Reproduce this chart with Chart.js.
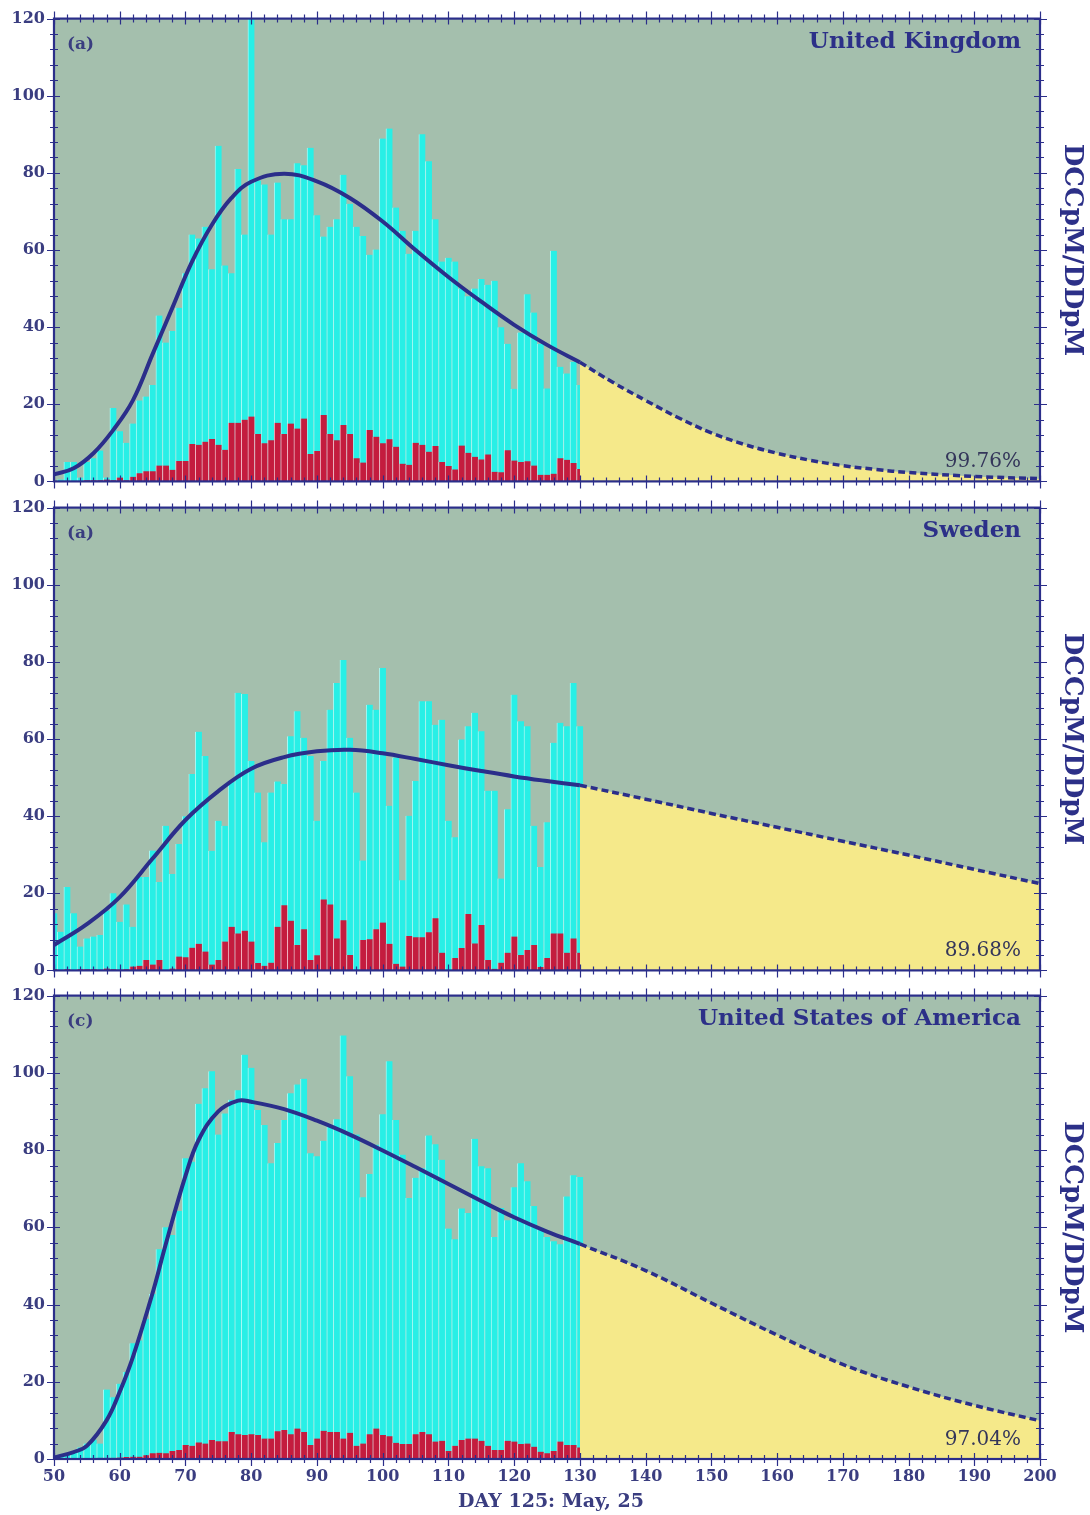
<!DOCTYPE html>
<html>
<head>
<meta charset="utf-8">
<script src="https://cdn.jsdelivr.net/npm/chart.js@4.4.1/dist/chart.umd.min.js"></script>
<style>
html,body{margin:0;padding:0;background:#ffffff;width:1090px;height:1515px;overflow:hidden}
.p{position:absolute;left:0;width:1090px}
canvas{display:block}
</style>
</head>
<body>
<div class="p" style="top:0px;height:500px"><canvas id="c1" width="1090" height="500"></canvas></div>
<div class="p" style="top:489px;height:500px"><canvas id="c2" width="1090" height="500"></canvas></div>
<div class="p" style="top:977px;height:538px"><canvas id="c3" width="1090" height="538"></canvas></div>
<script>
// ---------- DATA ----------
const days = [50,51,52,53,54,55,56,57,58,59,
  60,61,62,63,64,65,66,67,68,69,
  70,71,72,73,74,75,76,77,78,79,
  80,81,82,83,84,85,86,87,88,89,
  90,91,92,93,94,95,96,97,98,99,
  100,101,102,103,104,105,106,107,108,109,
  110,111,112,113,114,115,116,117,118,119,
  120,121,122,123,124,125,126,127,128,129,
  130];

const xTickLabels = [50,60,70,80,90,100,110,120,130,140,150,160,170,180,190,200];
const yTickLabels = [0,20,40,60,80,100,120];

// United Kingdom
const ukCases = [0,0.5,5,5,1,5,6,8,1,19,
  13,10,15,21,22,25,43,36,39,45,
  54,64,63,66,55,87,56,54,81,64,
  120,78,77,64,77.5,68,68,82.5,82,86.5,
  69,63.5,66,68,79.5,72,66,63.6,58.8,60.1,
  88.9,91.5,71,65,59,65,90,83,68,57,
  58,57,50,48,50,52.5,51,52,40,35.7,
  24,38.6,48.5,43.8,35.7,24.1,59.8,29.7,28,31,
  25];
const ukDeaths = [0,0,0,0,0,0.3,0.3,0.3,0.5,0.3,
  1,0.3,1.2,2.1,2.6,2.6,4.1,4.1,3,5.3,
  5.3,9.7,9.5,10.3,11,9.5,8.2,15.2,15.2,16,
  16.8,12.3,9.9,10.7,15.2,12.3,15,13.7,16.3,7.1,
  7.9,17.2,12.3,10.7,14.6,12.3,6,4.9,13.3,11.6,
  9.9,10.9,9,4.6,4.3,10,9.5,7.7,9.2,5,
  4,3.1,9.3,7.4,6.4,5.7,7,2.5,2.4,8.1,
  5.4,5,5.2,4.1,1.7,1.7,2,6,5.6,4.8,
  3.2];
const ukFitDays = [50,53,56,59,62,65,68,71,74,77,80,85,90,95,100,105,110,115,120,125,130];
const ukFit     = [1.8,3.4,7.3,13.3,21,33,45,57,66.5,73.5,77.7,79.8,77.8,73.5,67.4,60,53,46.6,40.6,35.4,30.9];
const ukProjDays = [130,135,140,145,150,155,160,165,170,175,180,190,200];
const ukProj     = [30.9,25.7,21,16.5,12.6,9.6,7.3,5.5,4.1,3.1,2.3,1.3,0.7];

// Sweden
const seCases = [14.8,10,21.6,14.8,6.2,8.3,8.8,9.2,15.5,20,
  12.6,17.1,11.3,24.2,24.2,31.1,22.9,37.5,25,32.8,
  40,50.9,61.9,55.6,31,38.8,37.5,49,72,71.7,
  54.3,46.1,33.2,46.1,49,48.3,60.7,67.2,60.3,55.6,
  38.8,54.3,67.6,74.5,80.5,60.3,46.1,28.5,68.9,67.6,
  78.4,42.7,55.2,23.4,40.1,49.1,69.8,69.8,63.7,65,
  38.8,34.5,59.9,63.3,66.8,62,46.6,46.6,23.8,41.8,
  71.5,64.6,63.3,37.5,26.8,38.4,59,64.2,63.3,74.5,
  63.3];
const seDeaths = [0.3,0,0.3,0,0.3,0.3,0.3,0.2,0.5,0.3,
  0.2,0.3,1,1.2,2.7,1.5,2.7,0,0.5,3.6,
  3.4,5.9,6.9,4.9,1.5,2.7,7.5,11.3,9.6,10.3,
  7.5,1.9,1.2,2,11.3,16.9,12.9,6.6,10.7,2.7,
  3.9,18.4,17.1,8.3,13,4,0,7.9,8.1,10.7,
  12.4,6.9,1.7,1,8.9,8.6,8.6,9.9,13.5,4.6,
  0,3.2,5.8,14.6,7,11.8,2.7,0.4,2,4.6,
  8.8,4,5.3,6.6,0.9,3.2,9.6,9.6,4.6,8.3,
  4.6];
const seFitDays = [50,55,60,65,70,75,80,85,90,95,100,105,110,115,120,125,130];
const seFit     = [6.6,12,19,29,39,46.5,52.3,55.3,56.8,57.2,56.3,54.8,53.2,51.7,50.3,49.1,48];
const seProjDays = [130,140,150,160,170,180,190,200];
const seProj     = [48,44.4,40.7,37.1,33.5,29.9,26.2,22.5];

// United States of America
const usCases = [0.5,1,1.5,2,3,4,5,4,18,16,
  19.5,22.5,30,30.7,36.3,42.7,54.3,60,58,64.2,
  77.9,77,92,96,100.4,84,89.5,93,95.5,104.7,
  101.3,90.4,86.5,76.6,81.8,87.8,94.7,97,98.5,79.2,
  78.4,82.4,86.1,88,109.7,99.1,84,67.8,73.8,81.4,
  89.3,103,87.8,78.8,67.6,72.8,75.3,83.8,81.5,77.5,
  59.7,56.9,64.9,63.7,82.9,75.8,75.3,57.5,65,61.8,
  70.4,76.6,71.9,65.5,59.9,57.5,56.4,55.6,68,73.5,
  73];
const usDeaths = [0.1,0.1,0.1,0.1,0.2,0.2,0.2,0.3,0.3,0.3,
  0.4,0.5,0.6,0.6,1,1.5,1.6,1.5,2.1,2.3,
  3.6,3.4,4.3,4,4.9,4.6,4.6,7,6.4,6.2,
  6.4,6.2,5.3,5.3,7.2,7.5,6.4,7.9,7,3.6,
  5.3,7.3,7,7,5.3,6.8,3.4,4,6.4,7.9,
  6.2,5.9,4.2,3.9,3.9,6.4,7,6.4,4.5,4.7,
  2.1,3.4,4.9,5.3,5.3,4.7,3.4,2.3,2.3,4.7,
  4.5,3.9,4,3.2,1.9,1.5,2.1,4.5,3.6,3.6,
  3];
const usFitDays = [50,53,55,58,60,62,65,67,70,72,75,78,80,85,90,95,100,105,110,115,120,125,130];
const usFit     = [0.4,1.8,3.4,10,17.4,26.4,43,55.6,73.3,82.6,90,92.8,92.5,90.6,87.6,84,79.9,75.6,71.2,66.8,62.6,58.9,55.7];
const usProjDays = [130,140,150,160,170,180,190,200];
const usProj     = [55.7,48.8,40.4,32.1,24.5,18.7,13.9,9.9];

// ---------- STYLE ----------
const PLOT_BG = '#a4bfad';
const CYAN = '#28efe6', CYAN_EDGE = '#a6f8f3';
const RED = '#c41c3e', RED_EDGE = '#efb0be';
const YELLOW = '#f5e98a';
const NAVY = '#2b2e8a';
const LABEL = '#3a3d80';
const SERIF = "'DejaVu Serif', 'Liberation Serif', serif";

function pts(xs, ys) { return xs.map((x, i) => ({ x: x, y: ys[i] })); }

function decor(cfg) {
  return {
    id: 'decor_' + cfg.key,
    beforeDraw(chart) {
      const { ctx, chartArea: a } = chart;
      ctx.save();
      ctx.fillStyle = PLOT_BG;
      ctx.fillRect(a.left, a.top, a.right - a.left, a.bottom - a.top);
      ctx.restore();
    },
    afterDraw(chart) {
      const { ctx, chartArea: a, scales } = chart;
      const x = scales.x, y = scales.y;
      ctx.save();
      // ticks crossing the frame on all four sides
      ctx.strokeStyle = NAVY;
      ctx.lineWidth = 1.2;
      ctx.beginPath();
      for (let v = 50; v <= 200; v += 2) {
        const px = Math.round(x.getPixelForValue(v)) + 0.5;
        const major = v % 10 === 0;
        const out = major ? 7 : 4, inn = major ? 6 : 4;
        ctx.moveTo(px, a.bottom + out); ctx.lineTo(px, a.bottom - inn);
        ctx.moveTo(px, a.top - out); ctx.lineTo(px, a.top + inn);
      }
      for (let v = 0; v <= 120; v += 4) {
        const py = Math.round(y.getPixelForValue(v)) + 0.5;
        const major = v % 20 === 0;
        const out = major ? 7 : 4, inn = major ? 6 : 4;
        ctx.moveTo(a.left - out, py); ctx.lineTo(a.left + inn, py);
        ctx.moveTo(a.right + out, py); ctx.lineTo(a.right - inn, py);
      }
      ctx.stroke();
      // frame
      ctx.lineWidth = 2.2;
      ctx.strokeRect(a.left, a.top, a.right - a.left, a.bottom - a.top);

      // panel tag
      ctx.fillStyle = LABEL;
      ctx.textBaseline = 'alphabetic';
      ctx.textAlign = 'left';
      ctx.font = 'bold 17px ' + SERIF;
      ctx.fillText(cfg.tag, a.left + 13, a.top + 30);
      // country title
      ctx.fillStyle = '#2c3088';
      ctx.textAlign = 'right';
      ctx.font = 'bold 23px ' + SERIF;
      ctx.fillText(cfg.title, a.right - 19, a.top + 29);
      // percentage
      ctx.fillStyle = '#34365a';
      ctx.font = '20px ' + SERIF;
      ctx.fillText(cfg.pct, a.right - 19, a.bottom - 14);
      // right axis label
      ctx.save();
      ctx.translate(1072, (a.top + a.bottom) / 2);
      ctx.rotate(Math.PI / 2);
      ctx.textAlign = 'center';
      ctx.textBaseline = 'middle';
      ctx.fillStyle = '#2c3088';
      ctx.font = 'bold 26px ' + SERIF;
      ctx.fillText('DCCpM/DDpM', 0, 0);
      ctx.restore();
      // x axis title
      if (cfg.xTitle) {
        ctx.textAlign = 'center';
        ctx.textBaseline = 'alphabetic';
        ctx.fillStyle = LABEL;
        ctx.font = 'bold 19px ' + SERIF;
        ctx.fillText(cfg.xTitle, (a.left + a.right) / 2 + 4, chart.height - 8);
      }
      ctx.restore();
    }
  };
}

function makeChart(id, cfg) {
  const showX = !!cfg.xTitle;
  const tickFont = { family: SERIF, weight: 'bold', size: 16 };
  return new Chart(document.getElementById(id), {
    type: 'bar',
    data: {
      datasets: [
        { type: 'line', data: pts(cfg.fitDays, cfg.fit), borderColor: NAVY, borderWidth: 4,
          pointRadius: 0, tension: 0.4, fill: false, order: 1 },
        { type: 'line', data: pts(cfg.projDays, cfg.proj), borderColor: NAVY, borderWidth: 3.5,
          borderDash: [7, 4], pointRadius: 0, tension: 0.4,
          fill: 'origin', backgroundColor: YELLOW, order: 2 },
        { type: 'bar', data: pts(days, cfg.deaths), backgroundColor: RED, borderColor: RED_EDGE,
          borderWidth: { left: 1, right: 0, top: 0, bottom: 0 }, barPercentage: 1, categoryPercentage: 1,
          grouped: false, order: 3 },
        { type: 'bar', data: pts(days, cfg.cases), backgroundColor: CYAN, borderColor: CYAN_EDGE,
          borderWidth: { left: 1, right: 0, top: 0, bottom: 0 }, barPercentage: 1, categoryPercentage: 1,
          grouped: false, order: 4 }
      ]
    },
    options: {
      responsive: false,
      animation: false,
      events: [],
      layout: { padding: { left: 0, right: 50, top: 16, bottom: showX ? 0 : 18 } },
      plugins: { legend: { display: false }, tooltip: { enabled: false }, title: { display: false } },
      scales: {
        x: {
          type: 'linear', min: 50, max: 200, offset: false,
          grid: { display: false, drawTicks: false }, border: { display: false },
          afterBuildTicks: (s) => { s.ticks = xTickLabels.map(v => ({ value: v })); },
          ticks: { display: showX, autoSkip: false, maxRotation: 0, padding: 8,
                   color: LABEL, font: tickFont },
          afterFit: (s) => { s.height = showX ? 56 : 0; }
        },
        y: {
          type: 'linear', min: 0, max: 120,
          grid: { display: false, drawTicks: false }, border: { display: false },
          afterBuildTicks: (s) => { s.ticks = yTickLabels.map(v => ({ value: v })); },
          ticks: { autoSkip: false, padding: 9, color: LABEL, font: tickFont },
          afterFit: (s) => { s.width = 54; }
        }
      }
    },
    plugins: [decor(cfg)]
  });
}

makeChart('c1', { key: 'uk', tag: '(a)', title: 'United Kingdom', pct: '99.76%',
  cases: ukCases, deaths: ukDeaths, fitDays: ukFitDays, fit: ukFit, projDays: ukProjDays, proj: ukProj });
makeChart('c2', { key: 'se', tag: '(a)', title: 'Sweden', pct: '89.68%',
  cases: seCases, deaths: seDeaths, fitDays: seFitDays, fit: seFit, projDays: seProjDays, proj: seProj });
makeChart('c3', { key: 'us', tag: '(c)', title: 'United States of America', pct: '97.04%',
  cases: usCases, deaths: usDeaths, fitDays: usFitDays, fit: usFit, projDays: usProjDays, proj: usProj,
  xTitle: 'DAY 125: May, 25' });
</script>
</body>
</html>
